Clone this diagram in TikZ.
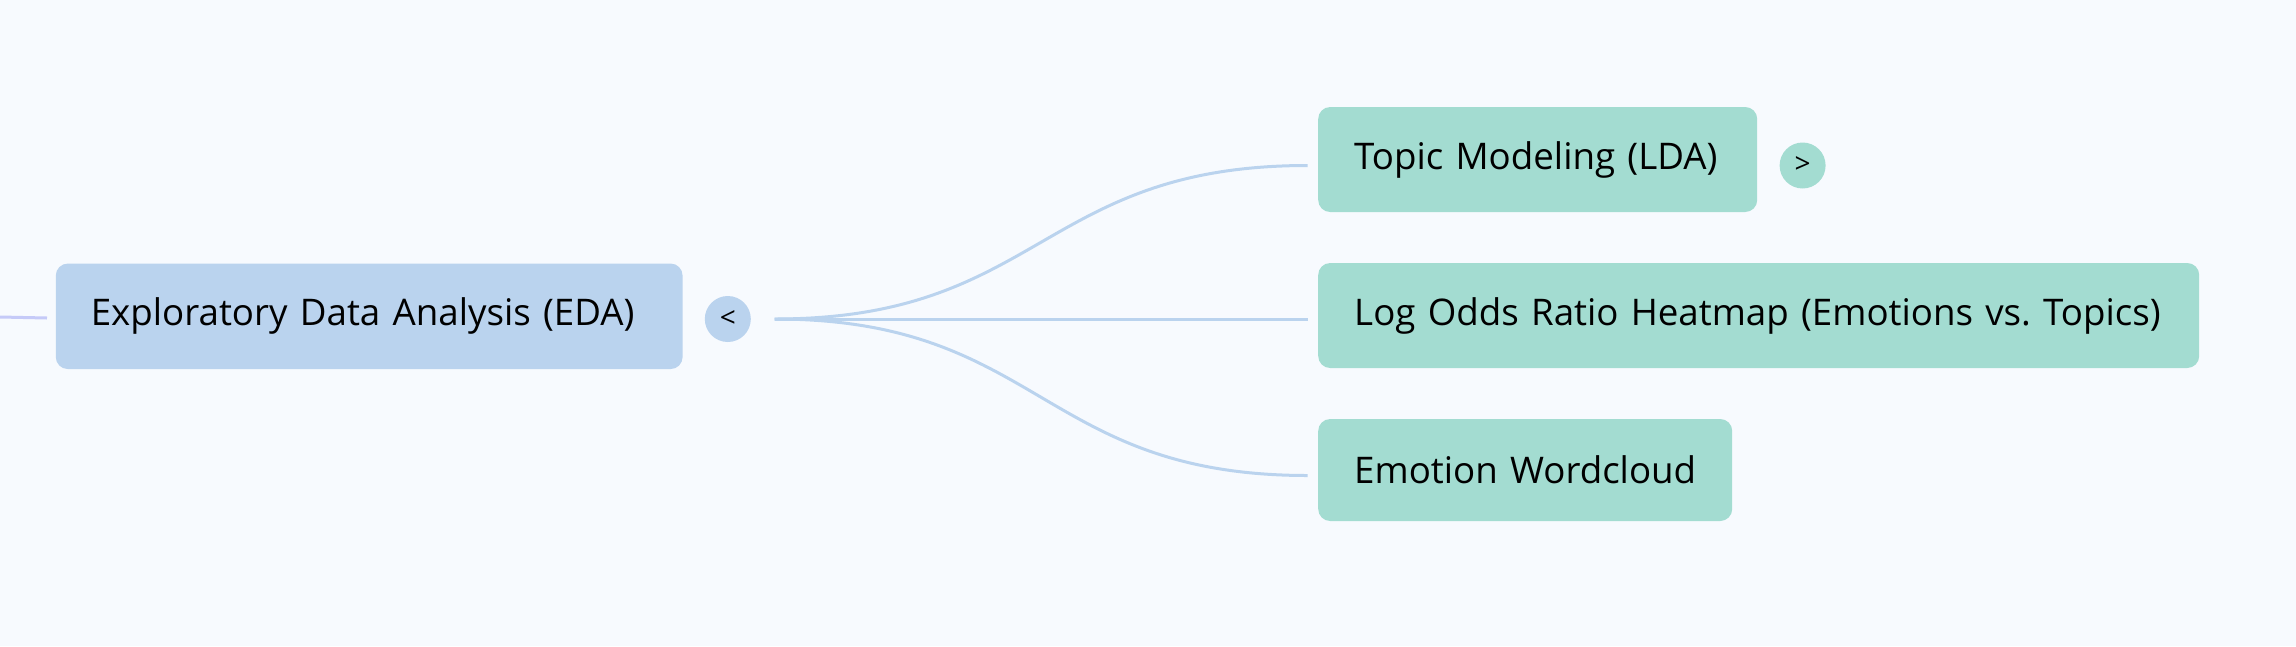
\documentclass[tikz,border=0pt]{standalone}
\usepackage{fontspec}
\setmainfont{Open Sans}
\definecolor{bgc}{HTML}{F7FAFE}
\definecolor{edac}{HTML}{BAD3EE}
\definecolor{grn}{HTML}{A3DCD1}
\definecolor{linec}{HTML}{BAD3EE}
\definecolor{stubc}{HTML}{C5CAF8}
\newcommand{\lowered}[1]{\raisebox{-4pt}{#1}}
\begin{document}
\begin{tikzpicture}[x=1pt,y=-1pt,
  boxbase/.style={anchor=west,rounded corners=12pt,inner sep=0pt,minimum height=105pt,font=\fontsize{36.7}{44}\selectfont,text=black},
  edabox/.style={boxbase,fill=edac,minimum height=105.5pt},
  grnbox/.style={boxbase,fill=grn},
  knob/.style={circle,inner sep=0pt,minimum size=46pt,font=\fontsize{28}{32}\selectfont},
  conn/.style={draw=linec,line width=3pt}]
\fill[bgc] (0,0) rectangle (2296,646);
\useasboundingbox (0,0) rectangle (2296,646);
\node[edabox,text width=626.8pt] (eda) at (55.6,316.3) {\hspace*{35pt}\lowered{Exploratory Data Analysis (EDA)}};
\node[knob,fill=edac] (ek) at (727.8,319) {\lowered{<}};
\coordinate (stub) at (0,317);
\coordinate (stubend) at (47,318);
\draw[draw=stubc,line width=3pt] (stub) -- (stubend);
\node[grnbox,text width=439pt] (topic) at (1318,159.5) {\hspace*{36pt}\lowered{Topic Modeling (LDA)}};
\node[knob,fill=grn] (tk) at (1802.6,165.5) {\lowered{>}};
\node[grnbox,text width=881pt] (lor) at (1318,315.5) {\hspace*{36pt}\lowered{Log Odds Ratio Heatmap (Emotions vs.\ Topics)}};
\node[grnbox,text width=414pt,minimum height=102pt] (emo) at (1318,470) {\hspace*{36pt}\lowered{Emotion Wordcloud}};
\coordinate (src) at (774.6,319);
\coordinate (t1) at (1307.6,165.5);
\coordinate (t2) at (1307.6,319);
\coordinate (t3) at (1307.6,475.5);
\draw[conn] (src) .. controls (1041,319) and (1041,165.5) .. (t1);
\draw[conn] (src) -- (t2);
\draw[conn] (src) .. controls (1041,319) and (1041,475.5) .. (t3);
\end{tikzpicture}
\end{document}
